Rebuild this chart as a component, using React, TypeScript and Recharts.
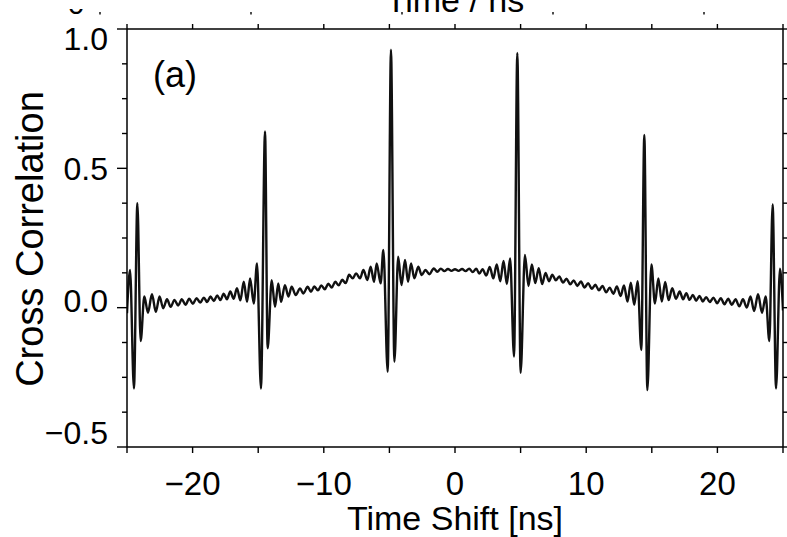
import React from 'react';
import { LineChart, Line, XAxis, YAxis } from 'recharts';

// Time shift (ns) at the extrema of the trace, and the cross-correlation value there
const TIME_NS = [
  -25.0, -24.77, -24.47, -24.21, -23.96, -23.68, -23.4, -23.1, -22.8, -22.52,
  -22.24, -21.95, -21.67, -21.38, -21.1, -20.82, -20.54, -20.26, -19.98, -19.7,
  -19.42, -19.14, -18.89, -18.64, -18.38, -18.13, -17.88, -17.63, -17.38, -17.13,
  -16.87, -16.62, -16.36, -16.1, -15.85, -15.62, -15.34, -15.09, -14.79, -14.48,
  -14.28, -13.97, -13.72, -13.47, -13.26, -12.96, -12.7, -12.45, -12.14, -11.81,
  -11.56, -11.23, -10.98, -10.72, -10.45, -10.19, -9.92, -9.66, -9.39, -9.13,
  -8.86, -8.6, -8.33, -8.07, -7.8, -7.54, -7.24, -6.98, -6.68, -6.43,
  -6.17, -5.97, -5.67, -5.46, -5.13, -4.88, -4.62, -4.33, -4.08, -3.81,
  -3.58, -3.35, -3.1, -2.8, -2.54, -2.25, -1.95, -1.62, -1.35, -1.08,
  -0.81, -0.54, -0.27, 0.0, 0.27, 0.54, 0.81, 1.08, 1.35, 1.62,
  1.85, 2.1, 2.38, 2.65, 2.92, 3.18, 3.45, 3.7, 3.95, 4.2,
  4.5, 4.75, 5.0, 5.33, 5.6, 5.86, 6.12, 6.38, 6.64, 6.9,
  7.16, 7.42, 7.68, 7.95, 8.23, 8.5, 8.78, 9.05, 9.32, 9.6,
  9.87, 10.15, 10.42, 10.7, 10.97, 11.24, 11.52, 11.79, 12.07, 12.34,
  12.62, 12.88, 13.15, 13.4, 13.66, 13.92, 14.2, 14.43, 14.66, 14.97,
  15.24, 15.5, 15.76, 16.02, 16.28, 16.56, 16.84, 17.13, 17.38, 17.63,
  17.88, 18.13, 18.38, 18.64, 18.89, 19.14, 19.42, 19.7, 19.98, 20.26,
  20.54, 20.82, 21.1, 21.38, 21.67, 21.95, 22.24, 22.52, 22.8, 23.1,
  23.4, 23.68, 23.96, 24.21, 24.47, 24.77, 25.0,
];

const CROSS_CORR = [
  -0.02, 0.135, -0.29, 0.375, -0.12, 0.04, -0.018, 0.048, -0.015, 0.04,
  -0.002, 0.03, 0.003, 0.028, 0.008, 0.03, 0.01, 0.032, 0.014, 0.034,
  0.018, 0.036, 0.02, 0.04, 0.024, 0.044, 0.027, 0.05, 0.03, 0.058,
  0.032, 0.07, 0.026, 0.093, 0.021, 0.105, 0.015, 0.159, -0.29, 0.632,
  -0.146, 0.099, 0.003, 0.087, 0.021, 0.081, 0.04, 0.075, 0.045, 0.069,
  0.051, 0.075, 0.057, 0.076, 0.062, 0.08, 0.066, 0.086, 0.072, 0.093,
  0.08, 0.1, 0.088, 0.118, 0.105, 0.123, 0.105, 0.135, 0.099, 0.147,
  0.093, 0.159, 0.087, 0.207, -0.23, 0.926, -0.194, 0.183, 0.081, 0.171,
  0.093, 0.159, 0.105, 0.147, 0.117, 0.135, 0.12, 0.141, 0.129, 0.14,
  0.131, 0.139, 0.132, 0.138, 0.132, 0.139, 0.131, 0.14, 0.128, 0.14,
  0.122, 0.138, 0.115, 0.146, 0.105, 0.155, 0.095, 0.168, 0.085, 0.177,
  -0.175, 0.914, -0.234, 0.189, 0.078, 0.155, 0.088, 0.142, 0.085, 0.125,
  0.095, 0.118, 0.098, 0.112, 0.09, 0.104, 0.084, 0.098, 0.078, 0.094,
  0.072, 0.088, 0.068, 0.082, 0.062, 0.078, 0.055, 0.072, 0.05, 0.076,
  0.042, 0.08, 0.022, 0.09, 0.01, 0.095, -0.152, 0.62, -0.296, 0.155,
  0.015, 0.105, 0.022, 0.092, 0.027, 0.07, 0.032, 0.058, 0.03, 0.052,
  0.028, 0.046, 0.025, 0.042, 0.022, 0.038, 0.02, 0.036, 0.016, 0.034,
  0.012, 0.032, 0.01, 0.03, 0.005, 0.03, 0.0, 0.04, -0.012, 0.048,
  -0.018, 0.04, -0.12, 0.37, -0.29, 0.14, -0.01,
];

const X_TICKS = [-25, -20, -15, -10, -5, 0, 5, 10, 15, 20, 25];
const X_TICK_LABELS: Record<string, string> = { '-20': '\u221220', '-10': '\u221210', '0': '0', '10': '10', '20': '20' };
const Y_TICKS = [-0.5, -0.375, -0.25, -0.125, 0, 0.125, 0.25, 0.375, 0.5, 0.625, 0.75, 0.875, 1];
const Y_TICK_LABELS: Record<string, string> = { '1': '1.0', '0.5': '0.5', '0': '0.0', '-0.5': '\u22120.5' };
const TOP_PANEL_TICKS_X = [100, 251, 402, 553, 704];

const FONT = '"Liberation Sans", Arial, Helvetica, sans-serif';
const INK = '#000';

const data = TIME_NS.map((t, i) => ({ t, corr: CROSS_CORR[i] }));

// label baseline shift relative to its tick (keeps end labels inside the frame)
const Y_LABEL_DY: Record<string, number> = { '1': 21, '0.5': 12, '0': 4.5, '-0.5': -3 };

const LeftTick = (props: any) => {
  const { x, y, payload } = props;
  const key = String(payload.value);
  const label = Y_TICK_LABELS[key];
  const len = label ? 10 : 5;
  return (
    <g>
      <line x1={x - len} y1={y} x2={x} y2={y} stroke={INK} strokeWidth={1.4} />
      {label ? (
        <text x={x - 19} y={y + (Y_LABEL_DY[key] ?? 11)} textAnchor="end" fontSize={32} fontFamily={FONT} fill={INK}>
          {label}
        </text>
      ) : null}
    </g>
  );
};

const RightTick = (props: any) => {
  const { x, y } = props;
  return <line x1={x} y1={y} x2={x + 4} y2={y} stroke={INK} strokeWidth={1.4} />;
};

const BottomTick = (props: any) => {
  const { x, y, payload } = props;
  const label = X_TICK_LABELS[String(payload.value)];
  return (
    <g>
      <line x1={x} y1={y} x2={x} y2={y + 6} stroke={INK} strokeWidth={1.4} />
      {label ? (
        <text x={x} y={y + 48} textAnchor="middle" fontSize={33} fontFamily={FONT} fill={INK}>
          {label}
        </text>
      ) : null}
    </g>
  );
};

const TopTick = (props: any) => {
  const { x, y } = props;
  return <line x1={x} y1={y} x2={x} y2={y - 5} stroke={INK} strokeWidth={1.4} />;
};

export default function App() {
  return (
    <div style={{ position: 'absolute', left: 0, top: 0, width: 787, height: 537, background: '#fff' }}>
      <LineChart width={787} height={537} data={data} margin={{ top: 0, right: 0, bottom: 0, left: 0 }}>
        <XAxis
          dataKey="t"
          type="number"
          domain={[-25, 25]}
          allowDataOverflow
          ticks={X_TICKS}
          interval={0}
          height={90}
          tickSize={0}
          tickMargin={0}
          tickLine={false}
          axisLine={{ stroke: INK, strokeWidth: 1.5 }}
          tick={<BottomTick />}
        />
        <XAxis
          xAxisId="top"
          orientation="top"
          dataKey="t"
          type="number"
          domain={[-25, 25]}
          allowDataOverflow
          ticks={X_TICKS}
          interval={0}
          height={29}
          tickSize={0}
          tickMargin={0}
          tickLine={false}
          axisLine={{ stroke: INK, strokeWidth: 1.5 }}
          tick={<TopTick />}
        />
        <YAxis
          type="number"
          domain={[-0.5, 1]}
          allowDataOverflow
          ticks={Y_TICKS}
          interval={0}
          width={127}
          tickSize={0}
          tickMargin={0}
          tickLine={false}
          axisLine={{ stroke: INK, strokeWidth: 1.5 }}
          tick={<LeftTick />}
        />
        <YAxis
          yAxisId="right"
          orientation="right"
          type="number"
          domain={[-0.5, 1]}
          allowDataOverflow
          ticks={Y_TICKS}
          interval={0}
          width={4}
          tickSize={0}
          tickMargin={0}
          tickLine={false}
          axisLine={{ stroke: INK, strokeWidth: 1.5 }}
          tick={<RightTick />}
        />
        <Line
          type="monotone"
          dataKey="corr"
          stroke="#111"
          strokeWidth={2.4}
          dot={false}
          activeDot={false}
          isAnimationActive={false}
        />
      </LineChart>
      <svg
        width={787}
        height={537}
        style={{ position: 'absolute', left: 0, top: 0, pointerEvents: 'none' }}
      >
        <defs>
          <clipPath id="zeroClip">
            <rect x={60} y={9} width={40} height={6} />
          </clipPath>
        </defs>
        {/* remnants of the panel above, cut by the image edge */}
        <text x={455} y={12} textAnchor="middle" fontSize={34} fontFamily={FONT} fill={INK}>
          Time / ns
        </text>
        <text x={76} y={14} textAnchor="middle" fontSize={30} fontFamily={FONT} fill={INK} clipPath="url(#zeroClip)">
          0
        </text>
        {TOP_PANEL_TICKS_X.map((px) => (
          <line key={px} x1={px} y1={12} x2={px} y2={14.5} stroke={INK} strokeWidth={1.4} />
        ))}
        <text x={153} y={87} fontSize={36} fontFamily={FONT} fill={INK}>
          (a)
        </text>
        <text
          transform="translate(43,239) rotate(-90)"
          textAnchor="middle"
          fontSize={38}
          fontFamily={FONT}
          fill={INK}
        >
          Cross Correlation
        </text>
        <text x={455} y={530} textAnchor="middle" fontSize={34} fontFamily={FONT} fill={INK}>
          Time Shift [ns]
        </text>
      </svg>
    </div>
  );
}
